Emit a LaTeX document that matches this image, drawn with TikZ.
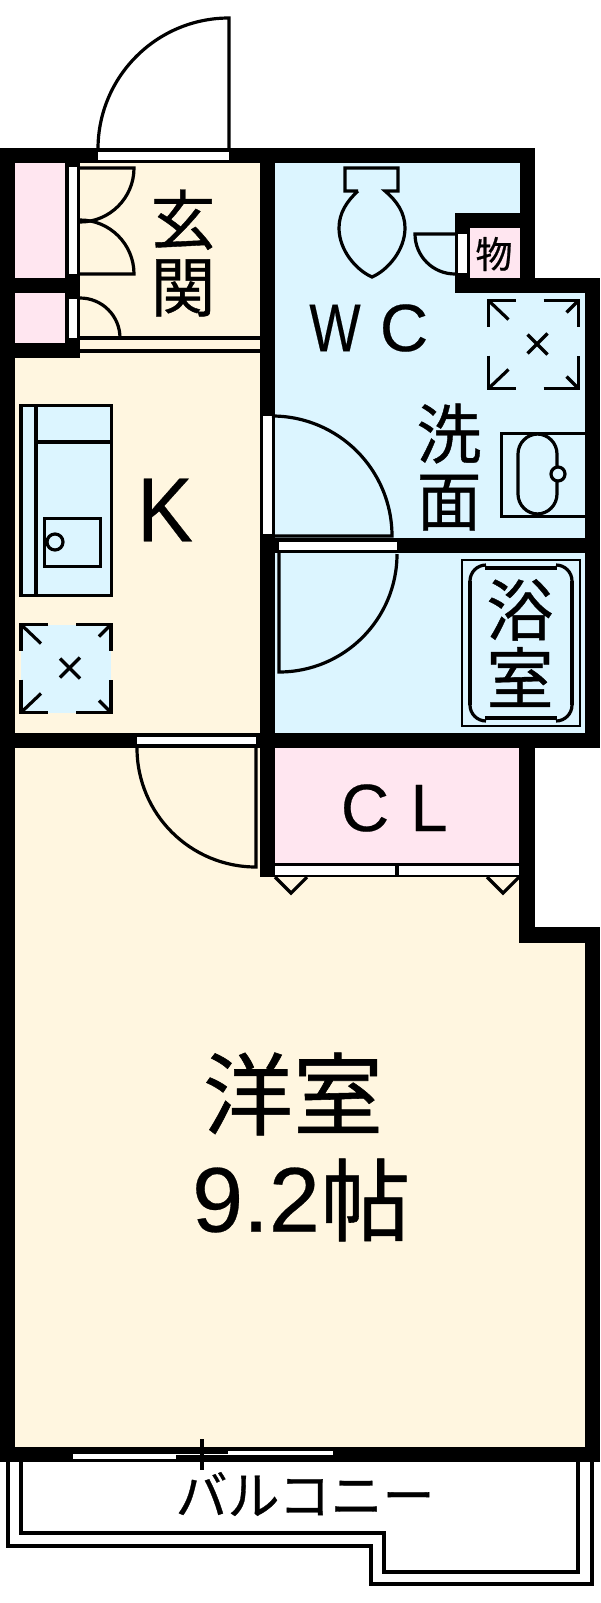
\documentclass[tikz,border=0pt]{standalone}
\usepackage{fontspec}
\setmainfont[FakeBold=0.3]{Liberation Sans}
\newfontfamily\cjk[FakeBold=0.6]{Noto Sans CJK JP}
\usetikzlibrary{positioning}
\definecolor{floorcream}{RGB}{255,246,224}
\definecolor{wetblue}{RGB}{220,245,255}
\definecolor{closetpink}{RGB}{255,230,240}
\tikzset{
  wall/.style={fill=black},
  opening/.style={fill=white},
  fixture/.style={draw=black,line width=3.2pt,line join=miter},
  roomtext/.style={inner sep=0pt,align=center,text=black},
}
\begin{document}
\begin{tikzpicture}[x=1pt,y=-1pt]
   \useasboundingbox (0,0) rectangle (600,1603);
   \fill[white] (0,0) rectangle (600,1603);
   % floors
   \fill[floorcream] (15,163) rectangle (260,733);
   \fill[floorcream] (15,748) rectangle (530,943);
   \fill[floorcream] (15,935) rectangle (585,1447);
   \fill[wetblue] (275,163) rectangle (520,538);
   \fill[wetblue] (470,293) rectangle (585,538);
   \fill[wetblue] (275,553) rectangle (585,733);
   \fill[closetpink] (15,163) rectangle (65,278);
   \fill[closetpink] (15,293) rectangle (65,343);
   \fill[closetpink] (470,228) rectangle (520,278);
   \fill[closetpink] (275,748) rectangle (519,863);
   % walls
   \fill[wall] (0,148) rectangle (535,163);
   \fill[wall] (0,148) rectangle (15,1462);
   \fill[wall] (0,1447) rectangle (600,1462);
   \fill[wall] (585,927) rectangle (600,1462);
   \fill[wall] (519,927) rectangle (600,943);
   \fill[wall] (519,748) rectangle (535,943);
   \fill[wall] (0,733) rectangle (600,748);
   \fill[wall] (260,148) rectangle (275,877);
   \fill[wall] (275,863) rectangle (519,877);
   \fill[wall] (520,148) rectangle (535,293);
   \fill[wall] (455,213) rectangle (520,228);
   \fill[wall] (455,278) rectangle (600,293);
   \fill[wall] (455,213) rectangle (470,293);
   \fill[wall] (585,278) rectangle (600,748);
   \fill[wall] (275,538) rectangle (600,553);
   \fill[wall] (65,163) rectangle (80,358);
   \fill[wall] (0,278) rectangle (80,293);
   \fill[wall] (0,343) rectangle (80,358);
   % openings
   \fill[opening] (98,152) rectangle (229,160);
   \fill[opening] (68.5,167) rectangle (77,274);
   \fill[opening] (68.5,299) rectangle (77,338);
   \fill[opening] (458,234) rectangle (467,273);
   \fill[opening] (263,416) rectangle (272,534);
   \fill[opening] (279,542) rectangle (397,550);
   \fill[opening] (137,737) rectangle (256,744);
   \fill[opening] (275,866) rectangle (395,875);
   \fill[opening] (399,866) rectangle (519,875);
   \fill[opening] (73,1454) rectangle (176,1459);
   \fill[opening] (176,1454) rectangle (228,1455);
   \fill[opening] (228,1451) rectangle (333,1455);
   % doors
   \draw[fixture] (98,149) arc(180:270:131) -- (229,149);
   \draw[fixture] (80,168) -- (134,168) arc(0:90:54);
   \draw[fixture] (80,220) arc(-90:0:54) -- (80,274);
   \draw[fixture] (80,298) arc(-90:0:40);
   \draw[fixture] (80,338) -- (260,338);
   \draw[fixture] (80,351) -- (260,351);
   \draw[fixture] (455,234) -- (415,234) arc(180:90:40);
   \draw[fixture] (272,416) arc(-90:0:120) -- (272,536);
   \draw[fixture] (279,553) -- (279,672) arc(90:0:118);
   \draw[fixture] (137,748) arc(180:90:119) -- (256,748);
   \draw[fixture] (275,877) -- (291,893) -- (307,877);
   \draw[fixture] (487,877) -- (503,893) -- (519,877);
   \draw[fixture] (202,1439) -- (202,1470);
   % toilet
   \draw[fixture] (358,191) -- (345,191) -- (345,168) -- (398,168) -- (398,191) -- (385,191)
      .. controls (397,201) and (405,213) .. (405,228)
      .. controls (405,250) and (388,270) .. (372,277)
      .. controls (356,270) and (339,250) .. (339,228)
      .. controls (339,213) and (347,201) .. (358,191);
   % kitchen
   \draw[fixture,fill=wetblue] (21,405.5) rectangle (111.5,595.5);
   \draw[fixture] (36,405) -- (36,596);
   \draw[fixture] (36,442) -- (112,442);
   \draw[fixture] (44.5,518.5) rectangle (100.5,566.5);
   \draw[fixture] (55,542) circle (8);
   % wash basin
   \draw[fixture] (585,433.5) -- (501.5,433.5) -- (501.5,516.5) -- (585,516.5);
   \draw[fixture,rounded corners=20pt] (518,434) rectangle (557,514);
   \draw[fixture,fill=wetblue] (558,474) circle (7);
   % bath
   \draw[fixture,line width=2.6pt] (462,560) rectangle (580,726);
   \draw[fixture] (485,568) -- (557,568);
   \draw[fixture] (485,718) -- (557,718);
   \draw[fixture] (470,581) -- (470,705);
   \draw[fixture] (572,581) -- (572,705);
   \draw[fixture] (486,565) arc(-90:-180:16);
   \draw[fixture] (556,565) arc(-90:0:16);
   \draw[fixture] (486,721) arc(90:180:16);
   \draw[fixture] (556,721) arc(90:0:16);
   % balcony
   \draw[fixture] (8,1462) -- (8,1546) -- (371,1546) -- (371,1584) -- (592,1584) -- (592,1462);
   \draw[fixture] (21,1462) -- (21,1533) -- (384,1533) -- (384,1572) -- (578,1572) -- (578,1462);
   % ceiling marks
   \fill[wetblue] (21,625) rectangle (111,713);
   \foreach \vx/\vy in {21/624.5,488.5/300.5} {
    \begin{scope}[shift={(\vx,\vy)}]
      \draw[fixture] (27,0) -- (0,0) -- (0,26);
      \draw[fixture] (55,0) -- (90,0) -- (90,26);
      \draw[fixture] (0,55) -- (0,88) -- (27,88);
      \draw[fixture] (55,88) -- (90,88) -- (90,55);
      \draw[fixture] (0,0) -- (20,19);
      \draw[fixture] (90,0) -- (78,12);
      \draw[fixture] (0,88) -- (20,69);
      \draw[fixture] (90,88) -- (78,76);
      \draw[fixture] (39,34) -- (59,54);
      \draw[fixture] (59,33) -- (39,53);
    \end{scope}
   }
   % labels
   \node[roomtext,font=\cjk\fontsize{65}{67}\selectfont] (entrylabel) at (183,253) {玄\\関};
   \node[roomtext,font=\cjk\fontsize{65}{67}\selectfont] (washlabel) at (449,467) {洗\\面};
   \node[roomtext,font=\cjk\fontsize{67}{68}\selectfont] (bathlabel) at (520,643) {浴\\室};
   \node[roomtext,font=\cjk\fontsize{37}{37}\selectfont] (storelabel) at (494,254) {物};
   \node[roomtext,font=\fontsize{91}{91}\selectfont,xscale=0.92] (kitchenlabel) at (165,510) {K};
   \node[roomtext,font=\fontsize{68}{68}\selectfont,xscale=0.8] (wlabel) at (335,328) {W};
   \node[roomtext,font=\fontsize{67}{67}\selectfont] (clabel) at (404,328) {C};
   \node[roomtext,font=\fontsize{67}{67}\selectfont] (clolabel) at (365,808) {C};
   \node[roomtext,font=\fontsize{67}{67}\selectfont] (clolabeltwo) at (429,808) {L};
   \node[roomtext,font=\cjk\fontsize{90}{90}\selectfont] (roomlabel) at (293,1094) {洋室};
   \node[roomtext,font=\fontsize{92}{92}\selectfont] (sizelabel) at (256,1200) {9.2};
   \node[roomtext,font=\cjk\fontsize{90}{90}\selectfont,right=0pt of sizelabel] (matlabel) {帖};
   \node[roomtext,font=\cjk\fontsize{52}{52}\selectfont] (balconylabel) at (305,1494) {バルコニー};
\end{tikzpicture}
\end{document}
